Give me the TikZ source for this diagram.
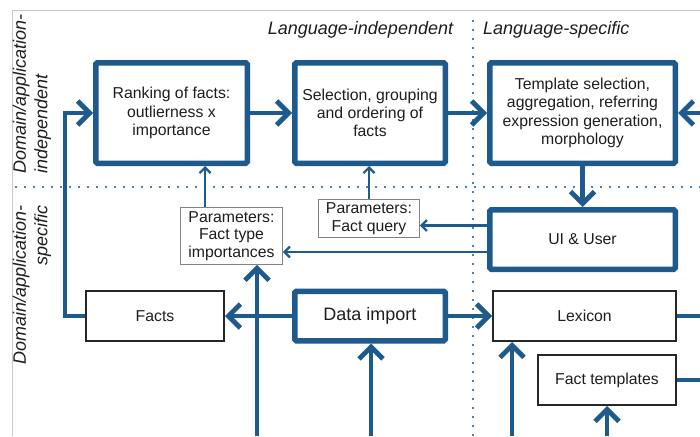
\documentclass[tikz,border=0pt]{standalone}
\usepackage{fontspec}
\setmainfont{Liberation Sans}
\usetikzlibrary{arrows.meta}
\definecolor{myblue}{RGB}{30,90,140}
\definecolor{dotblue}{RGB}{75,130,178}
\definecolor{txt}{RGB}{30,30,30}
\definecolor{frame}{RGB}{200,200,200}
\definecolor{pgray}{RGB}{130,130,130}
\begin{document}
\begin{tikzpicture}[x=1pt,y=-1pt,
  every node/.style={text=txt, inner sep=0pt},
  bigbox/.style={draw=myblue, line width=5.5pt, rounded corners=1.5pt, fill=white, align=center, font=\fontsize{15.8}{18.3}\selectfont},
  blackbox/.style={draw=black!85, line width=2pt, fill=white, align=center, font=\fontsize{15.8}{18.3}\selectfont},
  parbox/.style={draw=pgray, line width=1.3pt, fill=white, align=center, font=\fontsize{15.8}{17.5}\selectfont},
  thickarr/.style={draw=myblue, line width=4.8pt, -{Straight Barb[length=12pt,width=24pt]}},
  thickline/.style={draw=myblue, line width=4.8pt},
  thinarr/.style={draw=myblue, line width=2.2pt, -{Straight Barb[length=5.5pt,width=11pt]}},
  dotline/.style={draw=dotblue, line width=2.3pt, dash pattern=on 2.3pt off 6.7pt},
  lbl/.style={font=\fontsize{18}{21.5}\selectfont\itshape}
]
\useasboundingbox (0,0) rectangle (700,436);
\fill[white] (0,0) rectangle (700,436);
% frame
\draw[frame, line width=1pt] (700,11) -- (12,11) -- (12,436);
% dotted separators
\draw[dotline] (15,187) -- (700,187);
\draw[dotline] (473,20) -- (473,436);
% labels
\node[lbl] (li) at (360.5,30) {Language-independent};
\node[lbl, anchor=west] (ls) at (483,30) {Language-specific};
\node[lbl, rotate=90, align=left] (dai) at (32,94) {Domain/application-\\independent};
\node[lbl, rotate=90, align=right] (das) at (32,285) {Domain/application-\\specific};
% coordinates for free ends
\coordinate (rEdge) at (700,0);
\coordinate (b1) at (257,436);
\coordinate (b2) at (371,436);
\coordinate (b3) at (512,436);
\coordinate (b4) at (607,436);
\coordinate (inR) at (700,113);
% boxes
\node[bigbox, minimum width=151.5, minimum height=100.5] (rank) at (171.5,113) {Ranking of facts:\\outlierness x\\importance};
\node[bigbox, minimum width=150.5, minimum height=100.5] (sel) at (370,113) {Selection, grouping\\and ordering of\\facts};
\node[bigbox, minimum width=185.5, minimum height=100.5] (tmpl) at (582.5,113) {Template selection,\\aggregation, referring\\expression generation,\\morphology};
\node[bigbox, minimum width=185.5, minimum height=59.5] (ui) at (582.5,239.5) {UI \& User};
\node[bigbox, minimum width=150.5, minimum height=49.5, font=\fontsize{18}{21}\selectfont] (dat) at (370,316) {Data import};
\node[blackbox, minimum width=138, minimum height=50] (facts) at (155,316) {Facts};
\node[blackbox, minimum width=183, minimum height=50] (lex) at (584.5,316) {Lexicon};
\node[blackbox, minimum width=138, minimum height=50] (ft) at (607,380) {Fact templates};
\node[parbox, minimum width=101.5, minimum height=56.5] (fti) at (231.5,236) {Parameters:\\Fact type\\importances};
\node[parbox, minimum width=100.5, minimum height=37.5] (fq) at (369,218.5) {Parameters:\\Fact query};
% helper coordinates
\coordinate (ftitop) at ([xshift=-26.5pt]fti.north);
\coordinate (fqin) at ([yshift=-7pt]fq.east);
\coordinate (ftiin) at ([yshift=-16pt]fti.east);
% connectors
\draw[thickarr] (facts.west) -- ++(-20,0) |- (rank.west);
\draw[thickarr] (rank.east) -- (sel.west);
\draw[thickarr] (sel.east) -- (tmpl.west);
\draw[thickarr] (inR) -- (tmpl.east);
\draw[thickarr] (tmpl.south) -- (ui.north);
\draw[thinarr] (ftitop) -- (ftitop |- rank.south);
\draw[thinarr] (fq.north) -- (fq.north |- sel.south);
\draw[thinarr] (fqin -| ui.west) -- (fqin);
\draw[thinarr] (ftiin -| ui.west) -- (ftiin);
\draw[thickarr] (dat.west) -- (facts.east);
\draw[thickarr] (dat.east) -- (lex.west);
\draw[thickarr] (b1) -- (b1 |- fti.south);
\draw[thickarr] (b2) -- (b2 |- dat.south);
\draw[thickarr] (b3) -- (b3 |- lex.south);
\draw[thickarr] (b4) -- (ft.south);
\draw[thickline] (lex.east) -- (lex.east -| rEdge);
\draw[thickline] (ft.east) -- (ft.east -| rEdge);
\end{tikzpicture}
\end{document}
